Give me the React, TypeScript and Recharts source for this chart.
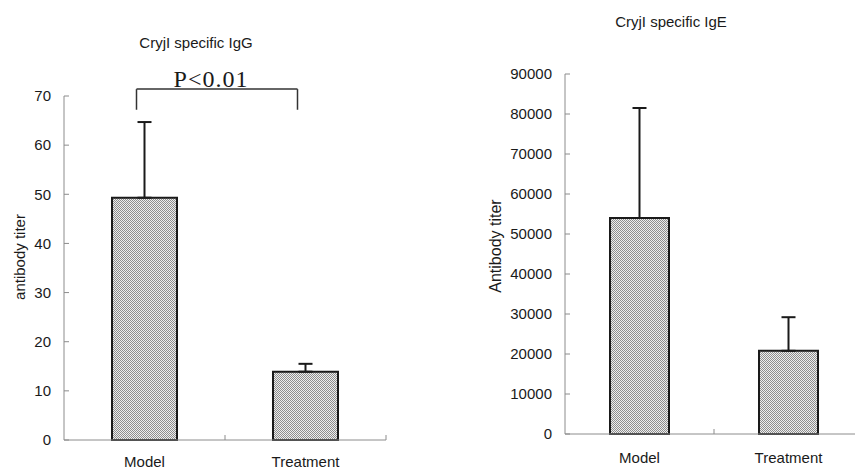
import React from "react";
import { Bar, BarChart, ErrorBar, ReferenceLine, XAxis, YAxis } from "recharts";

const categories = ["Model", "Treatment"];

const iggMeans = [49.3, 13.9];
const iggErrors = [15.4, 1.6];
const iggTicks = [0, 10, 20, 30, 40, 50, 60, 70];

const igeMeans = [54000, 20800];
const igeErrors = [27500, 8400];
const igeTicks = [0, 10000, 20000, 30000, 40000, 50000, 60000, 70000, 80000, 90000];

// significance bracket (data units of the IgG chart)
const bracketTop = 71.4;
const bracketFoot = 67.2;
const bracketText = "P<0.01";

const iggData = categories.map((name, i) => ({ name, value: iggMeans[i], err: [0, iggErrors[i]] }));
const igeData = categories.map((name, i) => ({ name, value: igeMeans[i], err: [0, igeErrors[i]] }));

const SANS = '"Liberation Sans", Arial, sans-serif';
const AXIS = "#8c8c8c";
const INK = "#1a1a1a";

const YTick = ({ x, y, payload }: any) => (
  <g>
    <line x1={x + 13} x2={x + 18} y1={y} y2={y} stroke={AXIS} strokeWidth={1} />
    <text x={x} y={y} dy="0.355em" textAnchor="end" fontSize={15} fontFamily={SANS} fill={INK}>
      {payload.value}
    </text>
  </g>
);

const makeXTick = (halfBand: number, margin: number) => ({ x, y, payload }: any) => (
  <g>
    <line x1={x + halfBand} x2={x + halfBand} y1={y - margin} y2={y - margin - 5} stroke={AXIS} strokeWidth={1} />
    <text x={x} y={y} dy="0.71em" textAnchor="middle" fontSize={15} fontFamily={SANS} fill={INK}>
      {payload.value}
    </text>
  </g>
);

const yLabel = (text: string, dx: number, dy: number, size: number) => ({ viewBox }: any) => {
  const cx = viewBox.x + dx;
  const cy = viewBox.y + viewBox.height / 2 + dy;
  return (
    <text x={cx} y={cy} transform={`rotate(-90 ${cx} ${cy})`} textAnchor="middle" dy="0.35em" fontSize={size} fontFamily={SANS} fill={INK}>
      {text}
    </text>
  );
};

const SHIFT = -8;
const bracketLine = (withText: boolean) => (p: any) => (
  <g>
    <line x1={p.x1 + SHIFT} y1={p.y1} x2={p.x2 + SHIFT} y2={p.y2} stroke="#333" strokeWidth={1.5} />
    {withText && (
      <text x={(p.x1 + p.x2) / 2 + SHIFT - 6} y={p.y1 - 2} textAnchor="middle" fontSize={24} letterSpacing={1} fontFamily='"Liberation Serif", "Times New Roman", serif' fill={INK}>
        {bracketText}
      </text>
    )}
  </g>
);

export default function App() {
  return (
    <div style={{ position: "absolute", left: 0, top: 0, width: 855, height: 470, overflow: "hidden", background: "#fff" }}>
      <svg width={0} height={0} style={{ position: "absolute" }}>
        <defs>
          <pattern id="dots" width={2} height={2} patternUnits="userSpaceOnUse">
            <rect width={2} height={2} fill="#eeeeee" />
            <rect width={1} height={1} fill="#8e8e8e" />
            <rect x={1} y={1} width={1} height={1} fill="#8e8e8e" />
          </pattern>
        </defs>
      </svg>

      <svg width={855} height={470} style={{ position: "absolute", left: 0, top: 0 }}>
        <text x={196} y={48} textAnchor="middle" fontSize={15} fontFamily={SANS} fill={INK}>CryjI specific IgG</text>
        <text x={671} y={27} textAnchor="middle" fontSize={15} fontFamily={SANS} fill={INK}>CryjI specific IgE</text>
      </svg>

      <div style={{ position: "absolute", left: 0, top: 0 }}>
        <BarChart width={430} height={470} data={iggData} margin={{ top: 96, right: 44, bottom: 0, left: 0 }}>
          <XAxis dataKey="name" height={30} stroke={AXIS} tickSize={0} tickMargin={16} tickLine={false} tick={makeXTick(80.5, 16)} />
          <YAxis width={64} domain={[0, 70]} ticks={iggTicks} interval={0} stroke={AXIS} tickSize={0} tickMargin={13} tickLine={false} tick={YTick} label={{ content: yLabel("antibody titer", 20, -11, 15) }} />
          <Bar dataKey="value" fill="url(#dots)" stroke={INK} strokeWidth={2} barSize={65} isAnimationActive={false}>
            <ErrorBar dataKey="err" direction="y" width={7} stroke={INK} strokeWidth={2} />
          </Bar>
          <ReferenceLine ifOverflow="visible" segment={[{ x: "Model", y: bracketTop }, { x: "Treatment", y: bracketTop }]} shape={bracketLine(true)} />
          <ReferenceLine ifOverflow="visible" segment={[{ x: "Model", y: bracketTop }, { x: "Model", y: bracketFoot }]} shape={bracketLine(false)} />
          <ReferenceLine ifOverflow="visible" segment={[{ x: "Treatment", y: bracketTop }, { x: "Treatment", y: bracketFoot }]} shape={bracketLine(false)} />
        </BarChart>
      </div>

      <div style={{ position: "absolute", left: 430, top: 0 }}>
        <BarChart width={440} height={470} data={igeData} margin={{ top: 74, right: 7, bottom: 0, left: 0 }}>
          <XAxis dataKey="name" height={36} stroke={AXIS} tickSize={0} tickMargin={18} tickLine={false} tick={makeXTick(74.5, 18)} />
          <YAxis width={135} domain={[0, 90000]} ticks={igeTicks} interval={0} stroke={AXIS} tickSize={0} tickMargin={13} tickLine={false} tick={YTick} label={{ content: yLabel("Antibody titer", 65, -8, 16) }} />
          <Bar dataKey="value" fill="url(#dots)" stroke={INK} strokeWidth={2} barSize={59} isAnimationActive={false}>
            <ErrorBar dataKey="err" direction="y" width={7} stroke={INK} strokeWidth={2} />
          </Bar>
        </BarChart>
      </div>
    </div>
  );
}
